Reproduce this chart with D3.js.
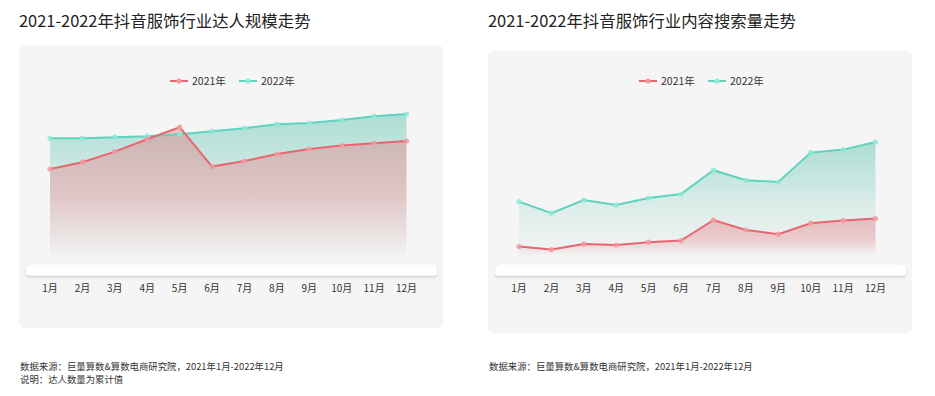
<!DOCTYPE html>
<html lang="zh">
<head>
<meta charset="utf-8">
<title>抖音服饰行业走势</title>
<script src="https://d3js.org/d3.v7.min.js"></script>
<style>
  body { margin: 0; background: #fff; }
  svg { display: block; font-family: "Noto Sans CJK SC", "Noto Sans", sans-serif; }
  .title { font-size: 16.4px; fill: #222; }
  .note { font-size: 9.4px; fill: #333; }
  .tick { font-size: 10px; fill: #333; }
  .legend { font-size: 10.5px; fill: #333; }
</style>
</head>
<body>
<svg width="935" height="396"></svg>
<script>
// data (relative index, no y axis in the original)
const months = ["1月","2月","3月","4月","5月","6月","7月","8月","9月","10月","11月","12月"];
const seriesNames = ["2021年", "2022年"];

const talent2021 = [47, 50.4, 55.7, 61.9, 67.9, 48.2, 51, 54.5, 57, 58.7, 59.9, 61];
const talent2022 = [62.4, 62.4, 62.9, 63.4, 64.4, 65.9, 67.4, 69.4, 70, 71.5, 73.4, 74.5];

const search2021 = [8.2, 6.7, 9.5, 9, 10.4, 11.2, 21.5, 16.5, 14.4, 19.9, 21.2, 22.2];
const search2022 = [30.7, 24.9, 31.5, 29, 32.5, 34.5, 46.4, 41.4, 40.5, 55.2, 56.7, 60.5];

const red = "#e8666f", teal = "#5fd3bd";

const svg = d3.select("svg");
const defs = svg.append("defs");

// vertical fade gradients, per area
function grad(id, color, stops) {
  const g = defs.append("linearGradient").attr("id", id)
    .attr("x1", 0).attr("y1", 0).attr("x2", 0).attr("y2", 1);
  stops.forEach(([o, a]) => g.append("stop").attr("offset", o)
    .attr("stop-color", color).attr("stop-opacity", a));
}
grad("gTeal", "#5cc4b0", [[0, 0.48], [0.6, 0.15], [1, 0.02]]);
grad("gRed", "#ea6f78", [[0, 0.4], [0.55, 0.3], [1, 0.02]]);

const shadow = defs.append("filter").attr("id", "shd")
  .attr("x", "-5%").attr("y", "-50%").attr("width", "110%").attr("height", "200%");
shadow.append("feDropShadow").attr("dx", 0).attr("dy", 1.5).attr("stdDeviation", 0.8)
  .attr("flood-color", "#000").attr("flood-opacity", 0.18);

function panel(opt) {
  const g = svg.append("g");

  g.append("text").attr("class", "title")
    .attr("x", opt.px).attr("y", 27).text(opt.title);

  g.append("rect")
    .attr("x", opt.px).attr("y", opt.py)
    .attr("width", 424).attr("height", opt.ph)
    .attr("rx", 5).attr("fill", "#f5f5f5");

  const x = d3.scalePoint().domain(months).range([opt.x0, opt.x0 + 356.5]);
  const y = d3.scaleLinear().domain([0, 100]).range([263, 63]);

  // platform
  const p0 = opt.px + 7, p1 = opt.px + 418;
  g.append("path")
    .attr("d", `M${p0 + 6},264.5 L${p1 - 6},264.5 Q${p1 - 3},264.5 ${p1 - 1},267 L${p1},272.5 Q${p1},275.5 ${p1 - 3},275.5 L${p0 + 3},275.5 Q${p0},275.5 ${p0},272.5 L${p0 + 1},267 Q${p0 + 3},264.5 ${p0 + 6},264.5 Z`)
    .attr("fill", "#fff").attr("filter", "url(#shd)");

  const area = d3.area().x((d, i) => x(months[i])).y0(255).y1(d => y(d));
  const line = d3.line().x((d, i) => x(months[i])).y(d => y(d));

  g.append("path").datum(opt.s2022).attr("d", area).attr("fill", "url(#gTeal)");
  g.append("path").datum(opt.s2021).attr("d", area).attr("fill", "url(#gRed)");

  [[opt.s2022, teal, "#8ee8d6"], [opt.s2021, red, "#f29aa0"]].forEach(([s, c, mc]) => {
    g.append("path").datum(s).attr("d", line)
      .attr("fill", "none").attr("stroke", c).attr("stroke-width", 2);
    g.selectAll(null).data(s).enter().append("circle")
      .attr("cx", (d, i) => x(months[i])).attr("cy", d => y(d))
      .attr("r", 2.6).attr("fill", mc).attr("fill-opacity", 0.85);
  });

  g.selectAll(null).data(months).enter().append("text")
    .attr("class", "tick")
    .attr("x", d => x(d)).attr("y", 292)
    .attr("text-anchor", "middle").text(d => d);

  // legend
  const lg = g.append("g").attr("transform", `translate(${opt.px + 151},81)`);
  [[red, "#f29aa0", 0], [teal, "#8ee8d6", 69]].forEach(([c, mc, dx], k) => {
    lg.append("line").attr("x1", dx).attr("x2", dx + 18).attr("y1", 0).attr("y2", 0)
      .attr("stroke", c).attr("stroke-width", 2);
    lg.append("circle").attr("cx", dx + 9).attr("cy", 0).attr("r", 2.6).attr("fill", mc);
    lg.append("text").attr("class", "legend").attr("x", dx + 22).attr("y", 3.8).text(seriesNames[k]);
  });

  opt.notes.forEach((t, k) => {
    g.append("text").attr("class", "note")
      .attr("x", opt.px + 1).attr("y", 369.5 + k * 13).text(t);
  });
}

panel({
  px: 19, py: 45, ph: 283, x0: 50,
  title: "2021-2022年抖音服饰行业达人规模走势",
  s2021: talent2021, s2022: talent2022,
  notes: ["数据来源：巨量算数&算数电商研究院，2021年1月-2022年12月", "说明：达人数量为累计值"]
});

panel({
  px: 488, py: 51, ph: 282, x0: 519,
  title: "2021-2022年抖音服饰行业内容搜索量走势",
  s2021: search2021, s2022: search2022,
  notes: ["数据来源：巨量算数&算数电商研究院，2021年1月-2022年12月"]
});
</script>
</body>
</html>
